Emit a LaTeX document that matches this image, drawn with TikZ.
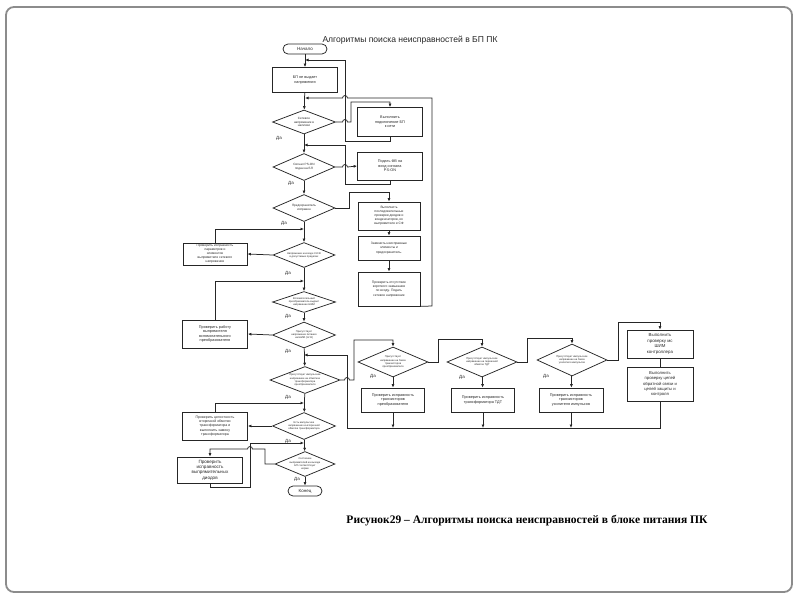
\documentclass[tikz,border=0pt]{standalone}
\usepackage{fontspec}
\setmainfont{Liberation Sans}
\newfontfamily\capfont{Liberation Serif}
\usetikzlibrary{shapes.geometric,arrows.meta}
\begin{document}
\begin{tikzpicture}[x=1pt,y=-1pt,
  ln/.style={draw=black!85, line width=0.75pt},
  arr/.style={ln, -{Latex[length=3.5pt,width=3pt]}},
  box/.style={ln, rectangle, inner sep=0.5pt, align=center, font=\fontsize{3.8}{4.6}\selectfont, text=black!85},
  dia/.style={ln, diamond, inner sep=0pt},
  dtx/.style={inner sep=0pt, align=center, font=\fontsize{3.1}{3.8}\selectfont, text=black!85},
  term/.style={ln, rectangle, rounded corners=5pt, inner sep=0pt, font=\fontsize{4.5}{5}\selectfont, text=black!85},
  yes/.style={inner sep=0pt, font=\fontsize{4.5}{5}\selectfont, text=black!85},
]
\path[use as bounding box] (0,0) rectangle (800,600);
\draw[draw=black!45, line width=1.8pt, rounded corners=8pt] (6,7) rectangle (792,592);

% title and caption
\node[inner sep=0pt, text=black!85] (title) at (410,40) {\resizebox{175pt}{!}{Алгоритмы поиска неисправностей в БП ПК}};
\node[inner sep=0pt] (caption) at (527,521) {\resizebox{361pt}{!}{\capfont\bfseries Рисунок29 – Алгоритмы поиска неисправностей в блоке питания ПК}};

% main column
\node[term, minimum width=44, minimum height=10] (start) at (305,49) {Начало};
\node[box, minimum width=65, minimum height=25] (b1) at (305,80) {БП не выдает\\напряжения};
\node[dia, minimum width=63, minimum height=24] (d1) at (304,122) {};
\node[dtx] (d1t) at (d1) {Сетевое\\напряжение в\\наличии};
\node[dia, minimum width=62, minimum height=27] (d2) at (304,167) {};
\node[dtx] (d2t) at (d2) {Сигнал PS-ON\\подан на БП};
\node[dia, minimum width=62, minimum height=27] (d3) at (304,208) {};
\node[dtx] (d3t) at (d3) {Предохранитель\\исправен};
\node[dia, minimum width=62, minimum height=25] (d4) at (304,255) {};
\node[dtx, font=\fontsize{2.6}{3.2}\selectfont] (d4t) at (d4) {Напряжение на входе 310 В\\в допустимых пределах};
\node[dia, minimum width=63, minimum height=21] (d5) at (304,302) {};
\node[dtx, font=\fontsize{2.6}{3.2}\selectfont] (d5t) at (d5) {Вспомогательный\\преобразователь выдает\\напряжение ШИМ};
\node[dia, minimum width=63, minimum height=26] (d6) at (304,335) {};
\node[dtx, font=\fontsize{2.6}{3.2}\selectfont] (d6t) at (d6) {Присутствует\\напряжение питания\\на ШИМ (12 В)};
\node[dia, minimum width=70, minimum height=27] (d7) at (305,380) {};
\node[dtx, font=\fontsize{2.6}{3.2}\selectfont] (d7t) at (d7) {Присутствует импульсное\\напряжение на обмотках\\трансформатора\\преобразователя};
\node[dia, minimum width=63, minimum height=27] (d8) at (304,426) {};
\node[dtx, font=\fontsize{2.6}{3.2}\selectfont] (d8t) at (d8) {Есть импульсное\\напряжение на вторичной\\обмотке трансформатора};
\node[dia, minimum width=60, minimum height=25] (d9) at (305,464) {};
\node[dtx, font=\fontsize{2.6}{3.2}\selectfont] (d9t) at (d9) {Состояние\\выпрямителей на выходе\\БП соответствует\\норме};
\node[term, minimum width=34, minimum height=10] (end) at (305,491) {Конец};

% right upper column
\node[box, minimum width=65, minimum height=29] (r1b) at (390,122) {Выполнить\\подключение БП\\к сети};
\node[box, minimum width=65, minimum height=28] (r2b) at (390,166) {Подать ФВ на\\вход сигнала\\PS-ON};
\node[box, minimum width=62, minimum height=28, font=\fontsize{3.3}{4}\selectfont] (r3b) at (389,216) {Выполнить\\последовательные\\проверки диодов и\\конденсаторов, их\\выпрямителя и СФ};
\node[box, minimum width=62, minimum height=24, font=\fontsize{3.3}{4.4}\selectfont] (r4b) at (389,248) {Заменить неисправные\\элементы и\\предохранитель.};
\node[box, minimum width=62, minimum height=34, font=\fontsize{3.3}{4.2}\selectfont] (r5b) at (389,289) {Проверить отсутствие\\короткого замыкания\\по входу. Подать\\сетевое напряжение};

% left boxes
\node[box, minimum width=64, minimum height=22, font=\fontsize{3.3}{3.9}\selectfont] (l1) at (215,254) {Проверить исправность\\параметров и\\элементов\\выпрямителя сетевого\\напряжения};
\node[box, minimum width=65, minimum height=28] (l2) at (215,334) {Проверить работу\\выпрямителя\\вспомогательного\\преобразователя};
\node[box, minimum width=65, minimum height=28, font=\fontsize{3.5}{4.3}\selectfont] (l3) at (215,426) {Проверить целостность\\вторичной обмотки\\трансформатора и\\выполнить замену\\трансформатора};
\node[box, minimum width=65, minimum height=26, font=\fontsize{4.6}{5.4}\selectfont] (l4) at (210,470) {Проверить\\исправность\\выпрямительных\\диодов};

% right lower block
\node[dia, minimum width=70, minimum height=30] (q1) at (393,362) {};
\node[dtx, font=\fontsize{2.6}{3.2}\selectfont] (q1t) at (q1) {Присутствует\\напряжение на базах\\транзисторов\\преобразователя};
\node[box, minimum width=63, minimum height=24] (q1b) at (393,400) {Проверить исправность\\транзисторов\\преобразователя};
\node[dia, minimum width=70, minimum height=30] (q2) at (482,362) {};
\node[dtx, font=\fontsize{2.6}{3.2}\selectfont] (q2t) at (q2) {Присутствует импульсное\\напряжение на первичной\\обмотке ТДТ};
\node[box, minimum width=63, minimum height=24] (q2b) at (483,400) {Проверить исправность\\трансформатора ТДТ};
\node[dia, minimum width=70, minimum height=32] (q3) at (572,360) {};
\node[dtx, font=\fontsize{2.6}{3.2}\selectfont] (q3t) at (q3) {Присутствует импульсное\\напряжение на базах\\усилителя импульсов};
\node[box, minimum width=64, minimum height=24] (q3b) at (571,400) {Проверить исправность\\транзисторов\\усилителя импульсов};
\node[box, minimum width=66, minimum height=28, font=\fontsize{4.4}{5.6}\selectfont] (q4) at (660,344) {Выполнить\\проверку мс\\ШИМ\\контроллера};
\node[box, minimum width=66, minimum height=34, font=\fontsize{4.2}{5.3}\selectfont] (q5) at (660,384) {Выполнить\\проверку цепей\\обратной связи и\\цепей защиты и\\контроля};

% "Да" labels
\node[yes] (y1) at (279,138) {Да};
\node[yes] (y2) at (291,183) {Да};
\node[yes] (y3) at (284,223) {Да};
\node[yes] (y4) at (288,273) {Да};
\node[yes] (y5) at (288,316) {Да};
\node[yes] (y6) at (288,351) {Да};
\node[yes] (y7) at (288,397) {Да};
\node[yes] (y8) at (288,441) {Да};
\node[yes] (y9) at (297,479) {Да};
\node[yes] (y10) at (373,376) {Да};
\node[yes] (y11) at (462,377) {Да};
\node[yes] (y12) at (546,376) {Да};

% junction coordinates on the main line
\coordinate (j60) at (305,60);
\coordinate (j98) at (305,98);
\coordinate (j145) at (304,145);
\coordinate (j229) at (304,229);
\coordinate (j281) at (304,281);
\coordinate (j355) at (304,355);
\coordinate (j403) at (304,403);
\coordinate (j443) at (304,443);
\coordinate (jbot) at (347,428);

% main flow
\draw[arr] (start) -- (b1);
\draw[arr] (b1) -- (d1);
\draw[arr] (d1) -- (d2);
\draw[arr] (d2) -- (d3);
\draw[arr] (d3) -- (d4);
\draw[arr] (d4) -- (d5);
\draw[arr] (d5) -- (d6);
\draw[arr] (d6) -- (d7);
\draw[arr] (d7) -- (d8);
\draw[arr] (d8) -- (d9);
\draw[arr] (d9) -- (end);

% upper right loops
\draw[arr] (d1.east) -- (342.5,122) arc(180:360:2.5) -- (351,122) -- (351,102) -| (r1b.north);
\draw[arr] (r1b.south) -- (390,141) -- (345,141) -- (345,60) -- (j60);
\draw[arr] (d2.east) -- (342.5,167) arc(180:360:2.5) -- (r2b.west);
\draw[arr] (r2b.south) -- (390,184) -- (345,184) -- (345,145) -- (j145);
\draw[arr] (d3.east) -- (349,208) -- (349,192) -| (r3b.north);
\draw[arr] (r3b) -- (r4b);
\draw[arr] (r4b) -- (r5b);
\draw[arr] (r5b.south east) -- (432,306) -- (432,98) -- (347.5,98) arc(0:-180:2.5) -- (j98);

% left loops
\draw[arr] (d4.west) -- (l1.east);
\draw[arr] (l1.north) |- (j229);
\draw[arr] (d6.west) -- (l2.east);
\draw[arr] (l2.north) |- (j281);
\draw[arr] (d8.west) -- (l3.east);
\draw[arr] (l3.north) |- (j403);
\draw[arr] (d9.west) -- (265,464) -- (265,449) -- (252.5,449) arc(0:-180:2.5) -| (l4.north);
\draw[arr] (l4.south) -- (210,487) -- (250,487) -- (250,443) -- (j443);

% lower right block
\draw[arr] (d7.east) -- (344.5,380) arc(180:360:2.5) -- (354,380) -- (354,340) -| (q1.north);
\draw[arr] (q1) -- (q1b);
\draw[arr] (q1.east) -- (438,362) -- (438,339) -| (q2.north);
\draw[arr] (q2) -- (q2b);
\draw[arr] (q2.east) -- (527,362) -- (527,338) -| (q3.north);
\draw[arr] (q3) -- (q3b);
\draw[arr] (q3.east) -- (618,360) -- (618,322) -| (q4.north);
\draw[ln] (q4) -- (q5);
\draw[arr] (q1b.south) -- (q1b.south |- jbot);
\draw[arr] (q2b.south) -- (q2b.south |- jbot);
\draw[arr] (q3b.south) -- (q3b.south |- jbot);
\draw[arr] (q5.south) -- (660,428) -- (jbot) -- (347,355) -- (j355);
\end{tikzpicture}
\end{document}
